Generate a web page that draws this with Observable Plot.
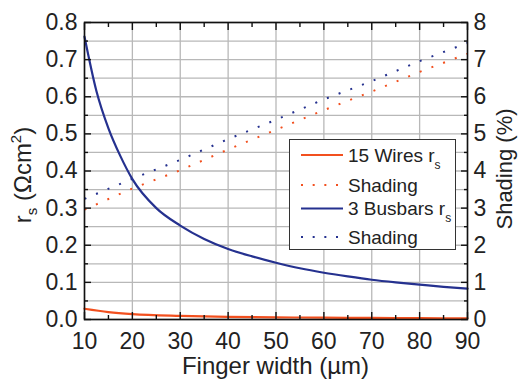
<!DOCTYPE html>
<html><head><meta charset="utf-8">
<script src="https://cdn.jsdelivr.net/npm/d3@7"></script>
<script src="https://cdn.jsdelivr.net/npm/@observablehq/plot@0.6"></script>
<style>body{margin:0;background:#fff;} svg{display:block}</style>
</head><body><div id="chart"></div>
<script>
// ---- data ----
const widthsBusbars = [10, 12.5, 15, 17.5, 20, 25, 30, 35, 40, 45, 50, 55, 60, 65, 70, 75, 80, 85, 90];
const rsBusbars = [0.762, 0.615, 0.515, 0.440, 0.378, 0.300, 0.253, 0.217, 0.190, 0.170, 0.153, 0.138, 0.126, 0.116, 0.107, 0.100, 0.094, 0.088, 0.083];
const widthsWires = [10, 15, 20, 30, 40, 50, 60, 70, 80, 90];
const rsWires = [0.029, 0.020, 0.0145, 0.0097, 0.0073, 0.0058, 0.0048, 0.0042, 0.0036, 0.0032];
const widthsShading = [10, 20, 30, 40, 50, 60, 70, 80, 90];
const shadingWires = [2.96, 3.53, 4.02, 4.58, 5.11, 5.64, 6.14, 6.67, 7.16];     // %
const shadingBusbars = [3.25, 3.79, 4.30, 4.86, 5.38, 5.93, 6.42, 6.96, 7.45];   // %
const xTicks = [10, 20, 30, 40, 50, 60, 70, 80, 90];
const xMinorTicks = [15, 25, 35, 45, 55, 65, 75, 85];
const yTicks = [0, 0.1, 0.2, 0.3, 0.4, 0.5, 0.6, 0.7, 0.8];
const yMinorTicks = [0.05, 0.15, 0.25, 0.35, 0.45, 0.55, 0.65, 0.75];
const shadingTicks = [0, 1, 2, 3, 4, 5, 6, 7, 8];
const seriesNames = ["15 Wires r", "Shading", "3 Busbars r", "Shading"];

const ORANGE = "#F2501F";
const BLUE = "#25318F";
const FONT = "'Liberation Sans', Arial, sans-serif";

const wires = widthsWires.map((w, i) => ({w, v: rsWires[i]}));
const busbars = widthsBusbars.map((w, i) => ({w, v: rsBusbars[i]}));
const shW = widthsShading.map((w, i) => ({w, s: shadingWires[i]}));
const shB = widthsShading.map((w, i) => ({w, s: shadingBusbars[i]}));
const pctToY = d => d.s / 10; // 8 % on the right axis aligns with 0.8 on the left
const allY = yTicks.concat(yMinorTicks).sort((a, b) => a - b);

const svg = Plot.plot({
  width: 518, height: 380,
  marginLeft: 84, marginRight: 51, marginTop: 22, marginBottom: 61,
  x: {domain: [10, 90]},
  y: {domain: [0, 0.8]},
  style: {fontFamily: FONT, fontSize: "23px", background: "#fff", color: "#222"},
  marks: [
    Plot.gridY(allY, {stroke: "#b8b8b8", strokeOpacity: 1, strokeWidth: 1.3}),
    Plot.gridX(xTicks, {stroke: "#b8b8b8", strokeOpacity: 1, strokeWidth: 1.3}),
    Plot.line(shW, {x: "w", y: pctToY, stroke: ORANGE, strokeWidth: 2, strokeDasharray: "2 10.5", strokeLinecap: "butt"}),
    Plot.line(shB, {x: "w", y: pctToY, stroke: BLUE, strokeWidth: 2, strokeDasharray: "2 10.5", strokeLinecap: "butt"}),
    Plot.line(busbars, {x: "w", y: "v", stroke: BLUE, strokeWidth: 2.2, curve: "monotone-x"}),
    Plot.line(wires, {x: "w", y: "v", stroke: ORANGE, strokeWidth: 2.2, curve: "monotone-x"}),
    Plot.frame({stroke: "#111", strokeWidth: 1.6}),
    // bottom axis with inward ticks
    Plot.axisX(xTicks, {anchor: "bottom", tickSize: -7, tickPadding: 20, label: null, fontSize: 23, stroke: "#111", strokeWidth: 1.4}),
    Plot.axisX(xMinorTicks, {anchor: "bottom", tickSize: -4, tickFormat: () => "", label: null, stroke: "#111", strokeWidth: 1.4}),
    Plot.axisX(xTicks, {anchor: "top", tickSize: -7, tickFormat: () => "", label: null, stroke: "#111", strokeWidth: 1.4}),
    Plot.axisX(xMinorTicks, {anchor: "top", tickSize: -4, tickFormat: () => "", label: null, stroke: "#111", strokeWidth: 1.4}),
    // left axis
    Plot.axisY(yTicks, {anchor: "left", tickSize: -7, tickPadding: 14, tickFormat: d3.format(".1f"), label: null, fontSize: 23, stroke: "#111", strokeWidth: 1.4}),
    Plot.axisY(yMinorTicks, {anchor: "left", tickSize: -4, tickFormat: () => "", label: null, stroke: "#111", strokeWidth: 1.4}),
    // right axis (shading %)
    Plot.axisY(yTicks, {anchor: "right", tickSize: -7, tickFormat: () => "", label: null, stroke: "#111", strokeWidth: 1.4}),
    Plot.axisY(yMinorTicks, {anchor: "right", tickSize: -4, tickFormat: () => "", label: null, stroke: "#111", strokeWidth: 1.4}),
    Plot.text(shadingTicks, {y: d => d / 10, text: d => String(d), frameAnchor: "right", textAnchor: "start", dx: 6, fontSize: 23, fill: "#222"})
  ]
});
document.getElementById("chart").appendChild(svg);

const s = d3.select(svg);
// axis titles
s.append("text").attr("x", 275.5).attr("y", 374).attr("text-anchor", "middle")
  .attr("font-family", FONT).attr("font-size", 24).attr("fill", "#222").text("Finger width (µm)");

const lt = s.append("text").attr("transform", "translate(31,175) rotate(-90)").attr("text-anchor", "middle")
  .attr("font-family", FONT).attr("font-size", 24).attr("fill", "#222");
lt.append("tspan").text("r");
lt.append("tspan").attr("font-size", 15).attr("dy", 6).text("s");
lt.append("tspan").attr("dy", -6).text(" (Ωcm");
lt.append("tspan").attr("font-size", 15).attr("dy", -10).text("2");
lt.append("tspan").attr("dy", 10).text(")");

s.append("text").attr("transform", "translate(512,169) rotate(-90)").attr("text-anchor", "middle")
  .attr("font-family", FONT).attr("font-size", 22).attr("fill", "#222").text("Shading (%)");

// legend
const lg = s.append("g").attr("text-anchor", "start");
lg.append("rect").attr("x", 289.5).attr("y", 139.5).attr("width", 166).attr("height", 110)
  .attr("fill", "#fff").attr("stroke", "#333").attr("stroke-width", 1);
const rowsY = [155, 185, 208.5, 237];
const styles = [
  {stroke: ORANGE, dash: null},
  {stroke: ORANGE, dash: "2 9.67"},
  {stroke: BLUE, dash: null},
  {stroke: BLUE, dash: "2 9.67"}
];
seriesNames.forEach((name, i) => {
  const y = rowsY[i];
  const ln = lg.append("line").attr("x1", 301).attr("x2", 343).attr("y1", y).attr("y2", y)
    .attr("stroke", styles[i].stroke).attr("stroke-width", 2.2);
  if (styles[i].dash) ln.attr("stroke-dasharray", styles[i].dash);
  const t = lg.append("text").attr("x", 348).attr("y", y).attr("dy", "0.36em").attr("text-anchor", "start")
    .attr("font-family", FONT).attr("font-size", 19).attr("fill", "#222").text(name);
  if (name.endsWith(" r")) t.append("tspan").attr("font-size", 12).attr("dy", 7).text("s");
});
</script>
</body></html>
